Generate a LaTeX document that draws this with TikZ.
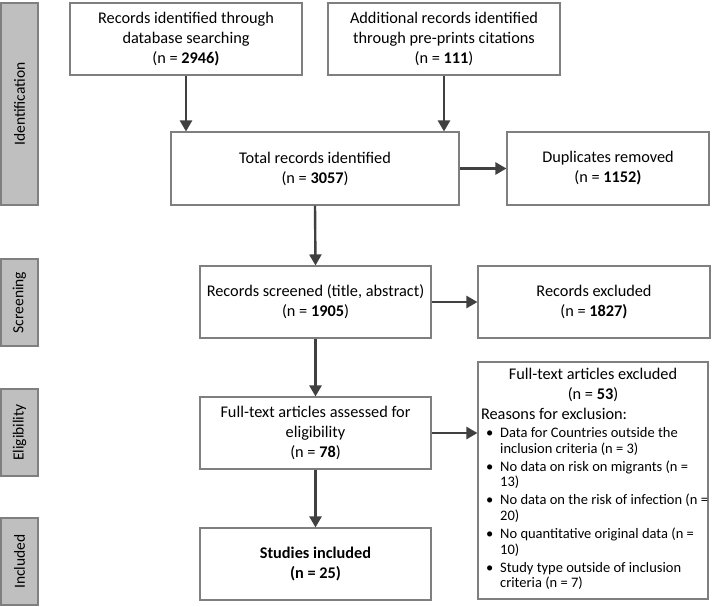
\documentclass[tikz,border=0pt]{standalone}
\usepackage{fontspec}
\setmainfont{Carlito}
\usetikzlibrary{arrows.meta}

\definecolor{boxgray}{HTML}{7F7F7F}
\definecolor{bargray}{HTML}{BFBFBF}
\definecolor{arrowgray}{HTML}{404040}

\begin{document}
\begin{tikzpicture}[x=1pt,y=-1pt,
  box/.style={draw=boxgray,line width=1.1pt,align=center,inner sep=2pt,
    font=\fontsize{16.3}{20}\selectfont},
  phase/.style={draw=boxgray,fill=bargray,line width=1.1pt,minimum height=37pt,
    rotate=90,font=\fontsize{15.5}{18}\selectfont},
  arr/.style={draw=arrowgray,line width=2.4pt,-{Triangle[width=12pt,length=11pt]}}]
  \useasboundingbox (0,0) rectangle (712,606);

  % phases
  \node[phase,minimum width=202pt] (ident) at (19.5,104) {Identification};
  \node[phase,minimum width=87pt] (screen) at (19.5,302.5) {Screening};
  \node[phase,minimum width=87pt] (elig) at (19.5,432.5) {Eligibility};
  \node[phase,minimum width=87pt] (incl) at (19.5,561.5) {Included};

  % boxes
  \node[box,minimum width=232pt,minimum height=72pt] (db) at (186,39)
    {Records identified through\\database searching\\(n = \textbf{2946)}};
  \node[box,minimum width=232pt,minimum height=72pt] (add) at (444,39)
    {Additional records identified\\through pre-prints citations\\(n = \textbf{111})};
  \node[box,minimum width=288pt,minimum height=73pt] (total) at (315,168.5)
    {Total records identified\\(n = \textbf{3057})};
  \node[box,minimum width=202pt,minimum height=73pt] (dup) at (608,168.5)
    {Duplicates removed\\(n = \textbf{1152)}};
  \node[box,minimum width=231pt,minimum height=72pt] (scr) at (315.5,302)
    {Records screened (title, abstract)\\(n = \textbf{1905})};
  \node[box,minimum width=232pt,minimum height=72pt] (rexc) at (594,302)
    {Records excluded\\(n = \textbf{1827)}};
  \node[box,minimum width=231pt,minimum height=72pt] (ft) at (315.5,433)
    {Full-text articles assessed for\\eligibility\\(n = \textbf{78})};
  \node[box,minimum width=230pt,minimum height=237pt,align=left,inner sep=2.5pt] (ftexc) at (593,480.5)
    {\parbox{224pt}{%
      {\fontsize{16.3}{20}\selectfont
      \centering Full-text articles excluded\\(n = \textbf{53})\par
      \raggedright Reasons for exclusion:\par}
      \vspace{2pt}
      {\fontsize{14.5}{15.7}\selectfont\noindent
      \begin{tabular}[t]{@{\hspace{5pt}}l@{\hspace{7pt}}l@{}}
        \textbullet & Data for Countries outside the\\
                    & inclusion criteria (n = 3)\\[2.3pt]
        \textbullet & No data on risk on migrants (n =\\
                    & 13)\\[2.3pt]
        \textbullet & No data on the risk of infection (n =\\
                    & 20)\\[2.3pt]
        \textbullet & No quantitative original data (n =\\
                    & 10)\\[2.3pt]
        \textbullet & Study type outside of inclusion\\
                    & criteria (n = 7)
      \end{tabular}\par}}};
  \node[box,minimum width=231pt,minimum height=72pt,font=\fontsize{16.3}{20}\selectfont\bfseries] (inc) at (315.5,564)
    {Studies included\\(n = 25)};

  % arrows
  \draw[arr] (db.south) -- (db.south |- total.north);
  \draw[arr] (add.south) -- (add.south |- total.north);
  \draw[arr] (total.east) -- (dup.west);
  \draw[arr] (total.south) -- (scr.north);
  \draw[arr] (scr.east) -- (rexc.west);
  \draw[arr] (scr.south) -- (ft.north);
  \draw[arr] (ft.east) -- (ft.east -| ftexc.west);
  \draw[arr] (ft.south) -- (inc.north);
\end{tikzpicture}
\end{document}
